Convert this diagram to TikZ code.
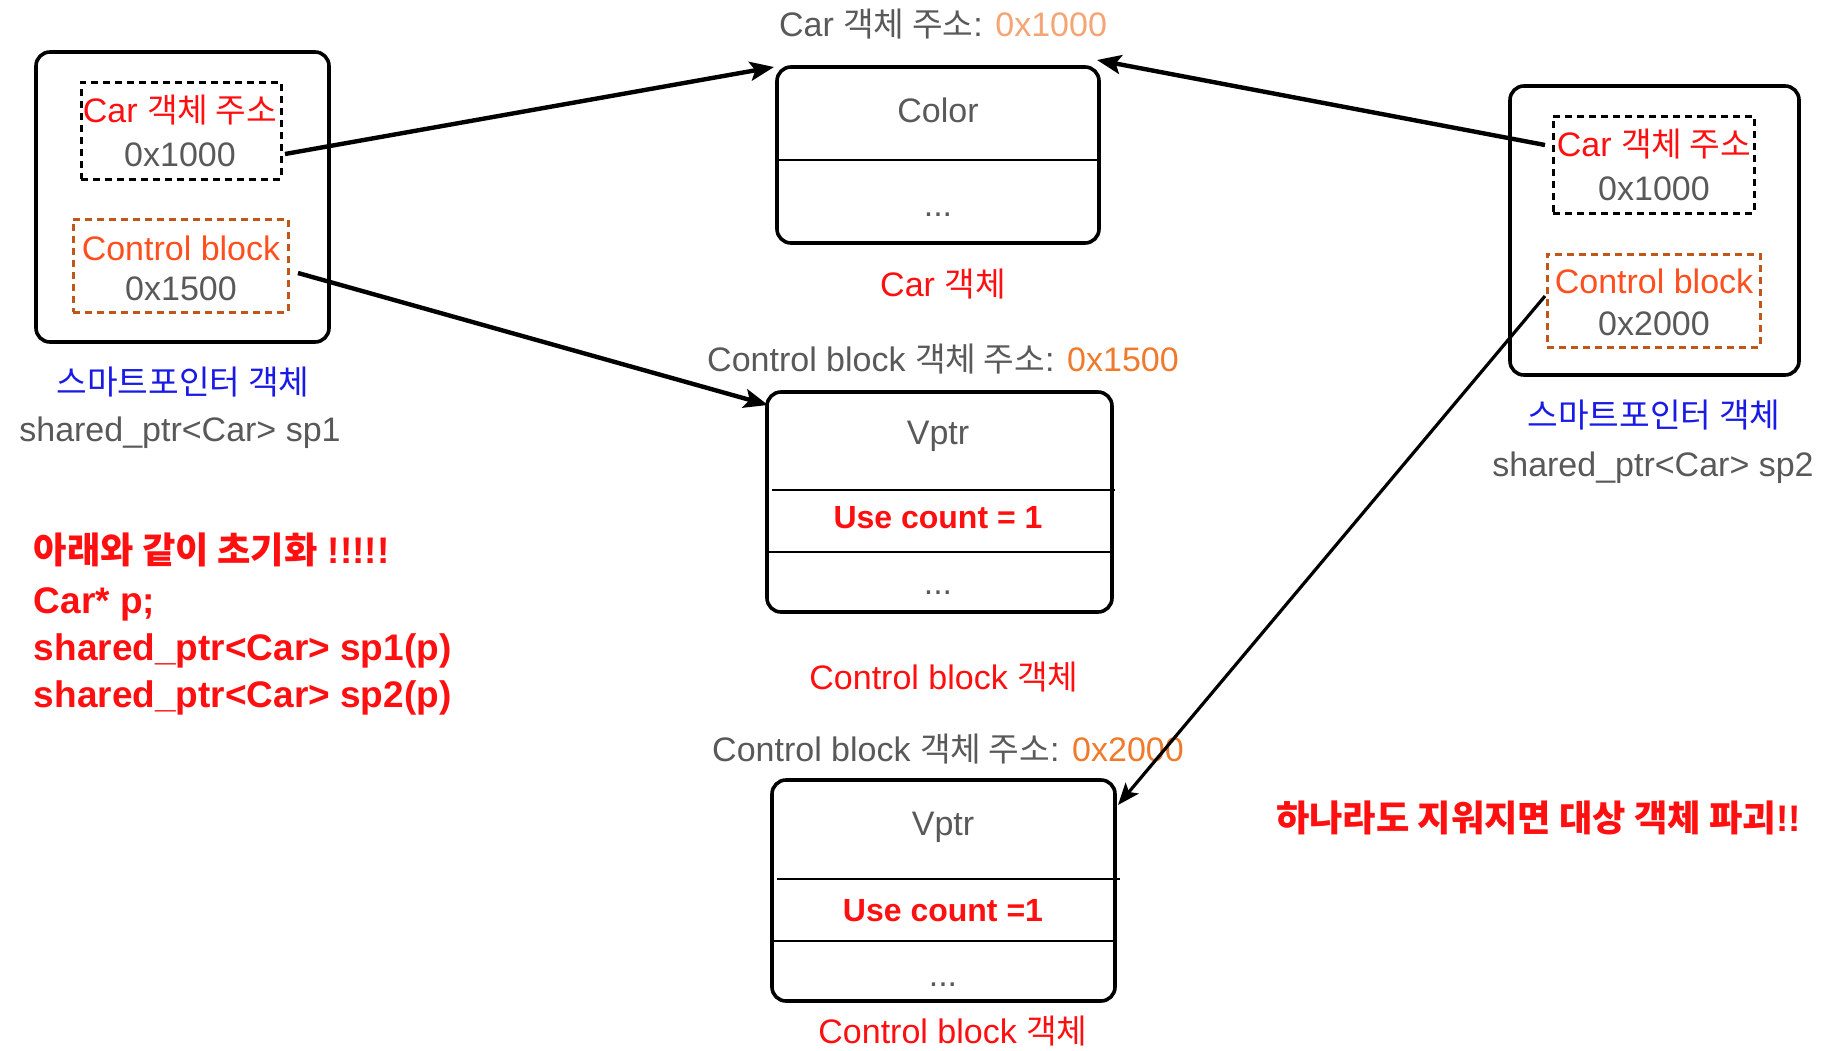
\documentclass[tikz,border=0pt]{standalone}
\usepackage{fontspec}
\setmainfont{Liberation Sans}
\newfontfamily\kr{Noto Sans CJK KR}[Scale=0.98]
\usetikzlibrary{arrows.meta}
\definecolor{txtgray}{HTML}{595959}
\definecolor{myred}{HTML}{FF0F0F}
\definecolor{cbred}{HTML}{FF4F1F}
\definecolor{addrorange}{HTML}{F07A2C}
\definecolor{peach}{HTML}{F5A473}
\definecolor{myblue}{HTML}{1A1AE6}
\definecolor{dashorange}{HTML}{C0561A}
\tikzset{
  every node/.style={inner sep=0pt, outer sep=0pt},
  reg/.style={font=\fontsize{34}{40}\selectfont, text height=24.5pt, text depth=0pt},
  bld/.style={font=\fontsize{37}{44}\selectfont\bfseries, text height=26.5pt, text depth=0pt},
  cnt/.style={font=\fontsize{32}{38}\selectfont\bfseries, text height=23pt, text depth=0pt, text=myred},
  sk/.style={draw=black, line width=3.6pt, rounded corners=14pt},
  dashbk/.style={draw=black, line width=3pt, dash pattern=on 7pt off 5pt},
  dashor/.style={draw=dashorange, line width=3pt, dash pattern=on 7pt off 5pt},
  divider/.style={line width=2.2pt},
  arr/.style={line width=4.4pt, -{Stealth[length=24pt,width=19pt,inset=5pt]}},
  arrthin/.style={line width=3.2pt, -{Stealth[length=22pt,width=17pt,inset=5pt]}},
}
\begin{document}
\begin{tikzpicture}[x=1pt,y=-1pt]
\useasboundingbox[fill=white] (0,0) rectangle (1848,1050);

% ---------- left smart pointer ----------
\node[sk, minimum width=293pt, minimum height=290pt] (outer1) at (182.5,197) {};
\node[dashbk, minimum width=200pt, minimum height=97pt] (dash1) at (181,130.5) {};
\node[dashor, minimum width=215pt, minimum height=93pt] (dash2) at (180.5,265.5) {};
\node[reg, text=myred] (l1a) at (180,110) {Car {\kr 객체 주소}};
\node[reg, text=txtgray] (l1b) at (180,154) {0x1000};
\node[reg, text=cbred] (l2a) at (181,248) {Control block};
\node[reg, text=txtgray] (l2b) at (181,288) {0x1500};
\node[reg, text=myblue] (lbl1) at (183,382) {\kr 스마트포인터 객체};
\node[reg, text=txtgray] (lbl1b) at (180,429) {shared\_ptr<Car> sp1};

% ---------- right smart pointer ----------
\node[sk, minimum width=289pt, minimum height=289pt] (outer2) at (1654.5,230.5) {};
\node[dashbk, minimum width=201pt, minimum height=97pt] (dash3) at (1653.5,164.5) {};
\node[dashor, minimum width=213pt, minimum height=93pt] (dash4) at (1653.5,300.5) {};
\node[reg, text=myred] (r1a) at (1654,144) {Car {\kr 객체 주소}};
\node[reg, text=txtgray] (r1b) at (1654,188) {0x1000};
\node[reg, text=cbred] (r2a) at (1654,281) {Control block};
\node[reg, text=txtgray] (r2b) at (1654,323) {0x2000};
\node[reg, text=myblue] (lbl2) at (1654,415) {\kr 스마트포인터 객체};
\node[reg, text=txtgray] (lbl2b) at (1653,464) {shared\_ptr<Car> sp2};

% ---------- Car object ----------
\node[reg, text=txtgray] (carhead) at (943,24) {Car {\kr 객체 주소}: \textcolor{peach}{0x1000}};
\node[sk, minimum width=322pt, minimum height=176pt] (car) at (938,155) {};
\draw[divider] (car.west |- 0,160) -- (car.east |- 0,160);
\node[reg, text=txtgray] (color) at (938,110) {Color};
\node[reg, text=txtgray] (cdots) at (938,204) {...};
\node[reg, text=myred] (carlbl) at (943,284) {Car {\kr 객체}};

% ---------- Control block 1 ----------
\node[reg, text=txtgray] (cb1head) at (943,359) {Control block {\kr 객체 주소}: \textcolor{addrorange}{0x1500}};
\node[sk, minimum width=345pt, minimum height=220pt] (cb1) at (939.5,502) {};
\draw[divider] (772,490) -- (1115,490);
\draw[divider] (768,552) -- (1112,552);
\node[reg, text=txtgray] (cb1v) at (938,432) {Vptr};
\node[cnt] (cb1c) at (938,517) {Use count = 1};
\node[reg, text=txtgray] (cb1d) at (938,582) {...};
\node[reg, text=myred] (cb1lbl) at (944,677) {Control block {\kr 객체}};

% ---------- Control block 2 ----------
\node[reg, text=txtgray] (cb2head) at (948,749) {Control block {\kr 객체 주소}: \textcolor{addrorange}{0x2000}};
\node[sk, minimum width=343pt, minimum height=221pt] (cb2) at (943.5,890.5) {};
\draw[divider] (777,879) -- (1120,879);
\draw[divider] (772,941) -- (1115,941);
\node[reg, text=txtgray] (cb2v) at (943,823) {Vptr};
\node[cnt] (cb2c) at (943,910) {Use count =1};
\node[reg, text=txtgray] (cb2d) at (943,974) {...};
\node[reg, text=myred] (cb2lbl) at (953,1031) {Control block {\kr 객체}};

% ---------- notes ----------
\node[bld, text=myred, anchor=west] (n1) at (34,550) {{\kr 아래와 같이 초기화} !!!!!};
\node[bld, text=myred, anchor=west] (n2) at (34,600) {Car* p;};
\node[bld, text=myred, anchor=west] (n3) at (34,647) {shared\_ptr<Car> sp1(p)};
\node[bld, text=myred, anchor=west] (n4) at (34,694) {shared\_ptr<Car> sp2(p)};
\node[bld, text=myred, anchor=west] (n5) at (1276,818) {{\kr 하나라도 지워지면 대상 객체 파괴}!!};

% ---------- arrows ----------
\coordinate (a1s) at (285,154);
\coordinate (a1e) at (774,67);
\coordinate (a2s) at (298,273);
\coordinate (a2e) at (768,405);
\coordinate (a3s) at (1545,145);
\coordinate (a3e) at (1097,60);
\coordinate (a4s) at (1545,296);
\coordinate (a4e) at (1118,805);
\draw[arr] (a1s) -- (a1e);
\draw[arr] (a2s) -- (a2e);
\draw[arr] (a3s) -- (a3e);
\draw[arrthin] (a4s) -- (a4e);
\end{tikzpicture}
\end{document}
